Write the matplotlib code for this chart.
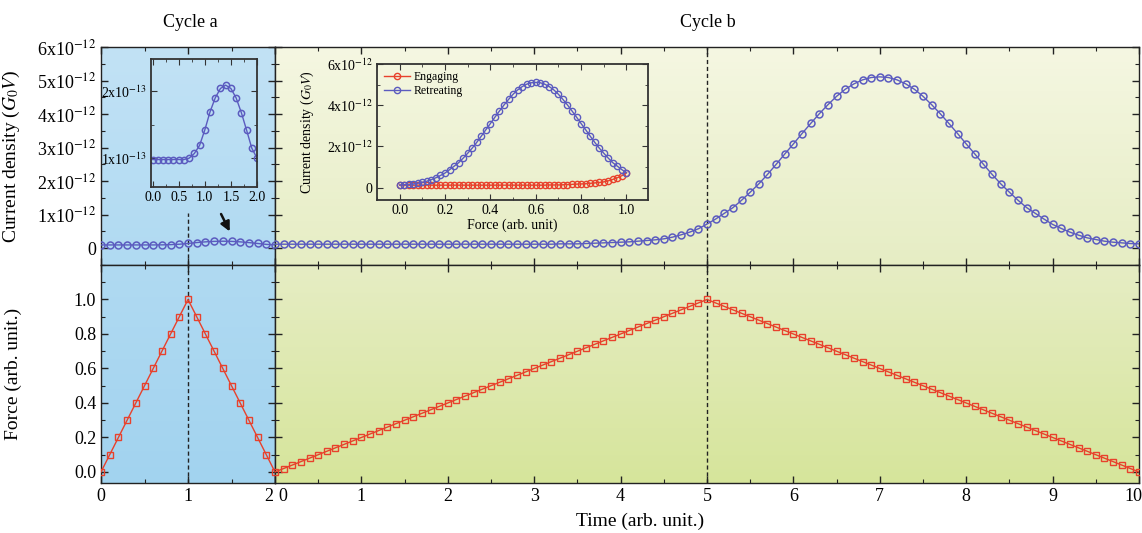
import numpy as np
import matplotlib
matplotlib.use('Agg')
import matplotlib.pyplot as plt
from matplotlib.ticker import MultipleLocator
from matplotlib.transforms import ScaledTranslation

plt.rcParams['font.family'] = ['Liberation Serif', 'DejaVu Serif']
plt.rcParams['mathtext.fontset'] = 'stix'

# ---- data ----
time_a = np.round(np.arange(0, 2.01, 0.1), 1)
force_a = [0.0, 0.1, 0.2, 0.3, 0.4, 0.5, 0.6, 0.7, 0.8, 0.9, 1.0,
           0.9, 0.8, 0.7, 0.6, 0.5, 0.4, 0.3, 0.2, 0.1, 0.0]
# current density, units of 1e-13 G0V
current_a = [0.98, 0.98, 0.98, 0.98, 0.98, 0.98, 0.98, 1.00, 1.07, 1.19, 1.42,
             1.69, 1.90, 2.04, 2.09, 2.04, 1.90, 1.68, 1.42, 1.15, 1.00]

time_b = np.round(np.arange(0, 10.01, 0.1), 1)
force_b = [0.00, 0.02, 0.04, 0.06, 0.08, 0.10, 0.12, 0.14, 0.16, 0.18,
           0.20, 0.22, 0.24, 0.26, 0.28, 0.30, 0.32, 0.34, 0.36, 0.38,
           0.40, 0.42, 0.44, 0.46, 0.48, 0.50, 0.52, 0.54, 0.56, 0.58,
           0.60, 0.62, 0.64, 0.66, 0.68, 0.70, 0.72, 0.74, 0.76, 0.78,
           0.80, 0.82, 0.84, 0.86, 0.88, 0.90, 0.92, 0.94, 0.96, 0.98,
           1.00,
           0.98, 0.96, 0.94, 0.92, 0.90, 0.88, 0.86, 0.84, 0.82, 0.80,
           0.78, 0.76, 0.74, 0.72, 0.70, 0.68, 0.66, 0.64, 0.62, 0.60,
           0.58, 0.56, 0.54, 0.52, 0.50, 0.48, 0.46, 0.44, 0.42, 0.40,
           0.38, 0.36, 0.34, 0.32, 0.30, 0.28, 0.26, 0.24, 0.22, 0.20,
           0.18, 0.16, 0.14, 0.12, 0.10, 0.08, 0.06, 0.04, 0.02, 0.00]
# current density, units of 1e-12 G0V
current_b = [0.12, 0.12, 0.12, 0.12, 0.12, 0.12, 0.12, 0.12, 0.12, 0.12,
             0.12, 0.12, 0.12, 0.12, 0.12, 0.12, 0.12, 0.12, 0.12, 0.12,
             0.12, 0.12, 0.12, 0.12, 0.12, 0.12, 0.12, 0.12, 0.12, 0.12,
             0.12, 0.12, 0.12, 0.13, 0.13, 0.13, 0.14, 0.15, 0.16, 0.17,
             0.18, 0.19, 0.21, 0.23, 0.25, 0.28, 0.33, 0.40, 0.48, 0.58,
             0.72,
             0.87, 1.04, 1.21, 1.43, 1.67, 1.92, 2.20, 2.50, 2.81, 3.11,
             3.42, 3.72, 4.01, 4.28, 4.53, 4.74, 4.90, 5.02, 5.09, 5.11,
             5.09, 5.02, 4.90, 4.74, 4.53, 4.28, 4.01, 3.72, 3.42, 3.11,
             2.81, 2.50, 2.20, 1.92, 1.67, 1.43, 1.21, 1.04, 0.87, 0.71,
             0.59, 0.48, 0.39, 0.31, 0.26, 0.21, 0.18, 0.16, 0.14, 0.13]

cur_a = np.array(current_a) * 1e-13
cur_b = np.array(current_b) * 1e-12
force_b = np.array(force_b)

red = '#e8412c'
blue = '#5b5bbf'

W, H = 1142, 533
fig = plt.figure(figsize=(W / 100, H / 100), dpi=100)


def box(x0, y0, x1, y1):
    return [x0 / W, 1 - y1 / H, (x1 - x0) / W, (y1 - y0) / H]


ax_ta = fig.add_axes(box(101, 47, 275, 265))
ax_tb = fig.add_axes(box(275, 47, 1139, 265))
ax_ba = fig.add_axes(box(101, 265, 275, 483))
ax_bb = fig.add_axes(box(275, 265, 1139, 483))


def gradient(ax, top, bottom):
    g = np.linspace(0, 1, 200)[:, None, None]
    img = np.array(top)[None, None, :] * (1 - g) + np.array(bottom)[None, None, :] * g
    ax.imshow(img / 255, extent=[0, 1, 0, 1], transform=ax.transAxes,
              aspect='auto', zorder=0)


gradient(ax_ta, (194, 226, 245), (176, 218, 242))
gradient(ax_ba, (176, 218, 242), (162, 211, 239))
gradient(ax_tb, (245, 247, 226), (230, 237, 196))
gradient(ax_bb, (230, 237, 196), (214, 229, 155))

# top panels: current
ax_ta.plot(time_a, cur_a, '-o', color=blue, mfc='none', ms=5, mew=1.1, lw=1, zorder=3)
ax_tb.plot(time_b, cur_b, '-o', color=blue, mfc='none', ms=5, mew=1.1, lw=1, zorder=3)
# bottom panels: force
ax_ba.plot(time_a, force_a, '-s', color=red, mfc='none', ms=4.5, mew=1, lw=1, zorder=3)
ax_bb.plot(time_b, force_b, '-s', color=red, mfc='none', ms=4.5, mew=1, lw=1, zorder=3)

ylim_top = (-0.5e-12, 6e-12)
ylim_bot = (-0.064, 1.2)
for ax in (ax_ta, ax_tb):
    ax.set_ylim(*ylim_top)
    ax.set_yticks(np.arange(0, 6.1, 1) * 1e-12)
    ax.yaxis.set_minor_locator(MultipleLocator(0.5e-12))
for ax in (ax_ba, ax_bb):
    ax.set_ylim(*ylim_bot)
    ax.set_yticks([0, 0.2, 0.4, 0.6, 0.8, 1.0])
    ax.yaxis.set_minor_locator(MultipleLocator(0.1))
for ax in (ax_ta, ax_ba):
    ax.set_xlim(0, 2)
    ax.set_xticks([0, 1, 2])
    ax.xaxis.set_minor_locator(MultipleLocator(0.5))
for ax in (ax_tb, ax_bb):
    ax.set_xlim(0, 10)
    ax.set_xticks(range(11))
    ax.xaxis.set_minor_locator(MultipleLocator(0.5))

for ax in (ax_ta, ax_tb, ax_ba, ax_bb):
    ax.tick_params(which='both', direction='in', top=True, right=True,
                   labelsize=13, color='#222222')
    ax.tick_params(which='major', length=5, width=1)
    ax.tick_params(which='minor', length=3, width=0.8)
    for s in ax.spines.values():
        s.set_color('#222222')
        s.set_linewidth(1)

ax_ta.set_yticklabels(['0'] + ['%dx10$^{-12}$' % i for i in range(1, 7)])
ax_ba.set_yticklabels(['0.0', '0.2', '0.4', '0.6', '0.8', '1.0'])
ax_tb.tick_params(labelleft=False, labelbottom=False)
ax_ta.tick_params(labelbottom=False)
ax_bb.tick_params(labelleft=False)
ax_bb.set_xticklabels([str(i) for i in range(11)])


def nudge(label, dx):
    label.set_transform(label.get_transform() + ScaledTranslation(dx / 100, 0, fig.dpi_scale_trans))


# keep the "2" and "0" at the break apart, and "10" inside the figure
nudge(ax_ba.xaxis.get_major_ticks()[2].label1, -6)
nudge(ax_bb.xaxis.get_major_ticks()[0].label1, 8)
nudge(ax_bb.xaxis.get_major_ticks()[10].label1, -6)

ax_ta.set_ylabel('Current density ($G_0V$)', fontsize=14)
ax_ta.yaxis.set_label_coords(-0.455, 0.5)
ax_ba.set_ylabel('Force (arb. unit.)', fontsize=14)
ax_ba.yaxis.set_label_coords(-0.455, 0.5)

# dashed markers of peak force
dash = dict(color='#222222', ls=(0, (3, 2)), lw=1, zorder=2)
ax_ta.axvline(1, ymin=0, ymax=0.24, **dash)
ax_ba.axvline(1, **dash)
ax_tb.axvline(5, **dash)
ax_bb.axvline(5, **dash)

ax_ta.annotate('', xy=(1.48, 0.5e-12), xytext=(1.38, 1.02e-12),
               arrowprops=dict(arrowstyle='-|>', color='#111111', lw=1.8,
                               mutation_scale=14, shrinkA=0, shrinkB=0))

fig.text(190 / W, 1 - 22 / H, 'Cycle a', ha='center', va='center', fontsize=13)
fig.text(708 / W, 1 - 22 / H, 'Cycle b', ha='center', va='center', fontsize=13)
fig.text(640 / W, 1 - 521 / H, 'Time (arb. unit.)', ha='center', va='center', fontsize=14)

# inset a: zoom of cycle a current
ins_a = fig.add_axes(box(151, 59, 257, 187))
ins_a.set_facecolor('none')
ins_a.plot(time_a, cur_a, '-o', color=blue, mfc='none', ms=4.5, mew=1.1, lw=1)
ins_a.set_xlim(-0.03, 2.0)
ins_a.set_ylim(0.57e-13, 2.48e-13)
ins_a.set_xticks([0, 0.5, 1.0, 1.5, 2.0])
ins_a.set_xticklabels(['0.0', '0.5', '1.0', '1.5', '2.0'])
ins_a.xaxis.set_minor_locator(MultipleLocator(0.25))
ins_a.set_yticks([1e-13, 2e-13])
ins_a.set_yticklabels(['1x10$^{-13}$', '2x10$^{-13}$'])
ins_a.yaxis.set_minor_locator(MultipleLocator(0.5e-13))

# inset b: current vs force
ins_b = fig.add_axes(box(377, 64, 648, 200))
ins_b.set_facecolor('none')
ins_b.plot(force_b[:51], cur_b[:51], '-o', color=red, mfc='none', ms=4.5, mew=1, lw=1,
           label='Engaging')
ins_b.plot(force_b[50:], cur_b[50:], '-o', color=blue, mfc='none', ms=4.5, mew=1, lw=1,
           label='Retreating')
ins_b.set_xlim(-0.1, 1.095)
ins_b.set_ylim(-0.6e-12, 6e-12)
ins_b.set_xticks([0, 0.2, 0.4, 0.6, 0.8, 1.0])
ins_b.set_xticklabels(['0.0', '0.2', '0.4', '0.6', '0.8', '1.0'])
ins_b.xaxis.set_minor_locator(MultipleLocator(0.1))
ins_b.set_yticks([0, 2e-12, 4e-12, 6e-12])
ins_b.set_yticklabels(['0', '2x10$^{-12}$', '4x10$^{-12}$', '6x10$^{-12}$'])
ins_b.yaxis.set_minor_locator(MultipleLocator(1e-12))
ins_b.set_xlabel('Force (arb. unit)', fontsize=10, labelpad=1)
ins_b.set_ylabel('Current density ($G_0V$)', fontsize=10)
ins_b.yaxis.set_label_coords(-0.225, 0.5)
ins_b.legend(loc='upper left', frameon=False, fontsize=8.5, handlelength=2.2,
             borderaxespad=0.2, labelspacing=0.2, handletextpad=0.3)

for ax in (ins_a, ins_b):
    ax.tick_params(which='both', direction='in', top=True, right=True,
                   labelsize=10, pad=3, color='#333333')
    ax.tick_params(which='major', length=4)
    ax.tick_params(which='minor', length=2)
    for s in ax.spines.values():
        s.set_color('#333333')
        s.set_linewidth(1.3)

fig.savefig('out.png', dpi=100)
